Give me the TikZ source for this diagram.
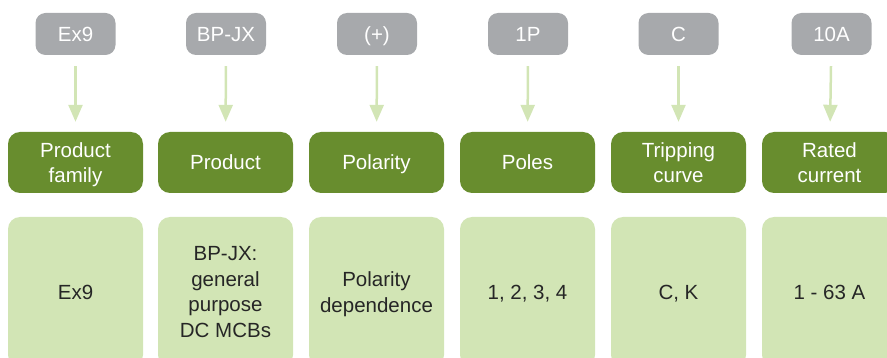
\documentclass[tikz,border=0pt]{standalone}
\usepackage{fontspec}
\setmainfont{Liberation Sans}
\usetikzlibrary{arrows.meta}
\definecolor{codegray}{HTML}{A7A9AC}
\definecolor{darkgreen}{HTML}{688D2E}
\definecolor{palegreen}{HTML}{D2E5B5}
\definecolor{textgray}{HTML}{262626}
\begin{document}
\begin{tikzpicture}
  [x=1pt,y=-1pt,
   every node/.style={align=center,text depth=0pt,font=\fontsize{20.5}{25.5}\selectfont},
   code/.style={fill=codegray,text=white,rounded corners=10pt,minimum width=80pt,minimum height=42pt},
   head/.style={fill=darkgreen,text=white,rounded corners=12pt,minimum width=135pt,minimum height=61pt},
   info/.style={fill=palegreen,text=textgray,rounded corners=12pt,minimum width=135pt,minimum height=150pt},
   arr/.style={draw=palegreen,line width=2.5pt,-{Triangle[width=14pt,length=17pt]},shorten <=11pt,shorten >=10pt}]
  \clip (0,0) rectangle (887,358);

  \node[code] (c1) at (75.5,34) {Ex9};
  \node[code] (c2) at (226,34) {BP-JX};
  \node[code] (c3) at (377,34) {(+)};
  \node[code] (c4) at (528,34) {1P};
  \node[code] (c5) at (678.5,34) {C};
  \node[code] (c6) at (831.5,34) {10A};

  \node[head] (h1) at (75.5,162.5) {Product\\family};
  \node[head] (h2) at (225.5,162.5) {Product};
  \node[head] (h3) at (376.5,162.5) {Polarity};
  \node[head] (h4) at (527.5,162.5) {Poles};
  \node[head] (h5) at (678.5,162.5) {Tripping\\curve};
  \node[head] (h6) at (829.5,162.5) {Rated\\current};

  \node[info] (d1) at (75.5,292) {Ex9};
  \node[info] (d2) at (225.5,292) {BP-JX:\\general\\purpose\\DC MCBs};
  \node[info] (d3) at (376.5,292) {Polarity\\dependence};
  \node[info] (d4) at (527.5,292) {1, 2, 3, 4};
  \node[info] (d5) at (678.5,292) {C, K};
  \node[info] (d6) at (829.5,292) {1 - 63 A};

  \foreach \i in {1,...,6}
    \draw[arr] (c\i) -- (h\i);
\end{tikzpicture}
\end{document}
